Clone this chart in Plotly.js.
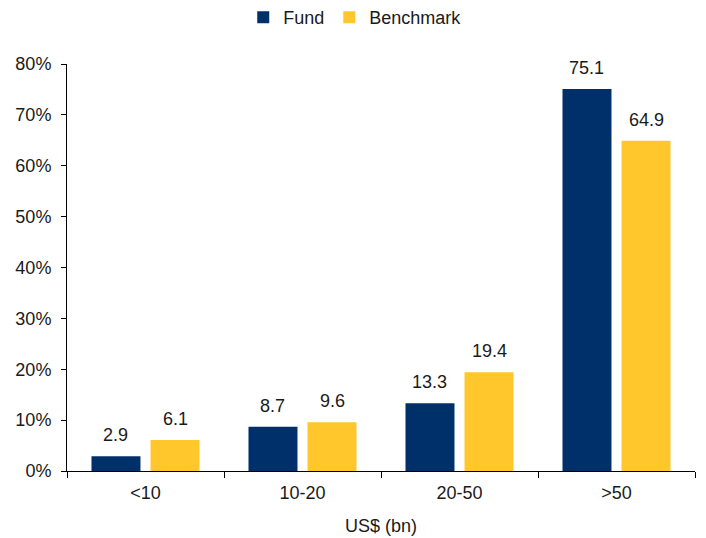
<!DOCTYPE html>
<html>
<head>
<meta charset="utf-8">
<script src="https://cdn.plot.ly/plotly-3.0.1.min.js"></script>
<style>html,body{margin:0;padding:0;background:#fff;}#chart{width:706px;height:538px;}</style>
</head>
<body>
<div id="chart"></div>
<script>
const categories = ['<10', '10-20', '20-50', '>50'];
const fundValues = [2.9, 8.7, 13.3, 75.1];
const benchmarkValues = [6.1, 9.6, 19.4, 64.9];
const seriesNames = ['Fund', 'Benchmark'];
const yTickValues = [0, 10, 20, 30, 40, 50, 60, 70, 80];
const yTickLabels = yTickValues.map(v => v + '%');

const colors = ['#00306A', '#FFC72C'];
const font = {family: 'Liberation Sans, Arial, sans-serif', size: 18, color: '#1a1a1a'};

const bargap = 0.248;
const groupWidth = 1 - bargap;
const slot = groupWidth / 2;

const traces = [fundValues, benchmarkValues].map((vals, i) => ({
  type: 'bar',
  name: seriesNames[i],
  x: categories,
  y: vals,
  marker: {color: colors[i], line: {width: 0}},
  hoverinfo: 'skip'
}));

const annotations = [];
[fundValues, benchmarkValues].forEach((vals, s) => {
  vals.forEach((v, i) => {
    annotations.push({
      xref: 'x', yref: 'y',
      x: i - groupWidth / 2 + slot * (s + 0.5),
      y: v,
      text: v.toFixed(1),
      showarrow: false,
      yanchor: 'bottom',
      yshift: 9,
      font: font
    });
  });
});

const layout = {
  width: 706, height: 538,
  margin: {l: 67, r: 11, t: 64, b: 67, autoexpand: false},
  paper_bgcolor: '#fff', plot_bgcolor: '#fff',
  font: font,
  barmode: 'group',
  bargap: bargap,
  bargroupgap: 0.17,
  showlegend: true,
  legend: {
    orientation: 'h', x: 0.459, xanchor: 'center',
    yref: 'container', y: 1 - 17.5 / 538, yanchor: 'middle',
    font: font, itemwidth: 30, traceorder: 'normal'
  },
  xaxis: {
    type: 'category',
    showline: true, linecolor: '#000', linewidth: 1,
    ticks: 'outside', tickson: 'boundaries', ticklen: 6, tickcolor: '#000',
    ticklabelstandoff: 5,
    showgrid: false, zeroline: false,
    tickfont: font,
    title: {text: 'US$ (bn)', font: font, standoff: 17}
  },
  yaxis: {
    range: [0, 80],
    tickmode: 'array',
    tickvals: yTickValues,
    ticktext: yTickLabels,
    showline: true, linecolor: '#000', linewidth: 1,
    ticks: 'outside', ticklen: 5, tickcolor: '#000',
    ticklabelstandoff: 6,
    showgrid: false, zeroline: false,
    tickfont: font
  },
  annotations: annotations
};

Plotly.newPlot('chart', traces, layout, {displayModeBar: false, staticPlot: true});
</script>
</body>
</html>
